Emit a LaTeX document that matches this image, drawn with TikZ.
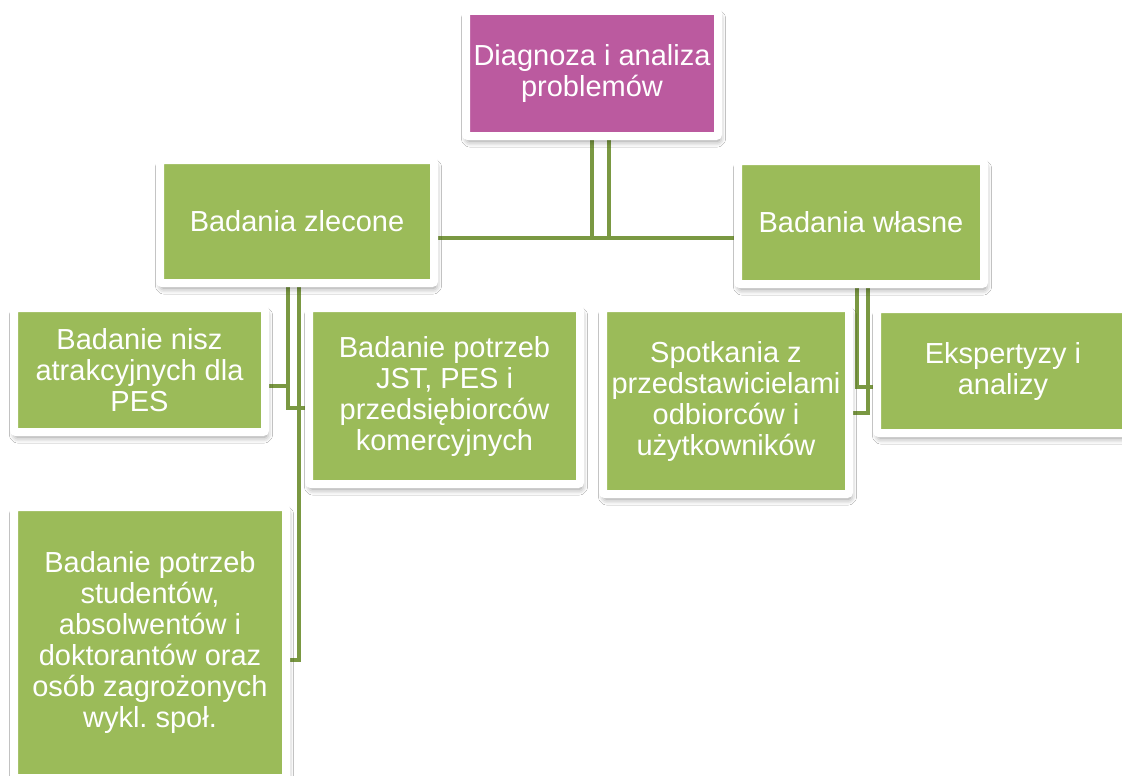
\documentclass[tikz,border=0pt]{standalone}
\usepackage{fontspec}
\setmainfont{Liberation Sans}
\usetikzlibrary{shadows.blur,backgrounds,calc}
\definecolor{boxgreen}{HTML}{9BBB59}
\definecolor{boxpurple}{HTML}{BB5A9F}
\definecolor{linegreen}{HTML}{7A9842}
\frenchspacing
\tikzset{
  box/.style={draw=white, line width=8pt, rounded corners=2pt, inner sep=0pt,
    align=center, text=white, font=\fontsize{29pt}{31pt}\selectfont,
    blur shadow={shadow xshift=1.5pt, shadow yshift=-5pt, shadow blur radius=6pt, shadow opacity=45}},
  gbox/.style={box, fill=boxgreen},
  pbox/.style={box, fill=boxpurple},
  conn/.style={draw=linegreen, line width=4pt}
}
\begin{document}
\begin{tikzpicture}[x=1pt,y=-1pt]
\useasboundingbox (0,0) rectangle (1122,776);
\clip (0,0) rectangle (1122,776);
\node[pbox, minimum width=252pt, minimum height=125pt] (top) at (592,73.5) {Diagnoza i analiza\\problemów};
\node[gbox, minimum width=274pt, minimum height=123pt] (zle) at (297,221.5) {Badania zlecone};
\node[gbox, minimum width=246pt, minimum height=123pt] (wla) at (861,222.5) {Badania własne};
\node[gbox, minimum width=251pt, minimum height=124pt] (nisz) at (139.5,370) {Badanie nisz\\atrakcyjnych dla\\PES};
\node[gbox, minimum width=271pt, minimum height=176pt] (jst) at (444.5,396) {Badanie potrzeb\\JST, PES i\\przedsiębiorców\\komercyjnych};
\node[gbox, minimum width=272pt, minimum height=271pt] (stud) at (150,642.5) {Badanie potrzeb\\studentów,\\absolwentów i\\doktorantów oraz\\osób zagrożonych\\wykl. społ.};
\node[gbox, minimum width=246pt, minimum height=186pt] (spot) at (726,401) {Spotkania z\\przedstawicielami\\odbiorców i\\użytkowników};
\node[gbox, minimum width=252pt, minimum height=124pt] (eksp) at (1003,371) {Ekspertyzy i\\analizy};
\begin{pgfonlayer}{background}
\fill[white] (0,0) rectangle (1122,776);
\draw[conn] ([xshift=17pt]top.south) |- ([yshift=-16.5pt]zle.east);
\draw[conn] (top.south) |- ([yshift=-15.5pt]wla.west);
\draw[conn] ([xshift=-9pt]zle.south) |- ([yshift=-16pt]nisz.east);
\draw[conn] ([xshift=-9pt]zle.south) |- ([yshift=-12pt]jst.west);
\draw[conn] ([xshift=2pt]zle.south) |- ([yshift=-17.5pt]stud.east);
\draw[conn] ([xshift=-4pt]wla.south) |- ([yshift=-16pt]eksp.west);
\draw[conn] ([xshift=7pt]wla.south) |- ([yshift=-12pt]spot.east);
\end{pgfonlayer}
\end{tikzpicture}
\end{document}
